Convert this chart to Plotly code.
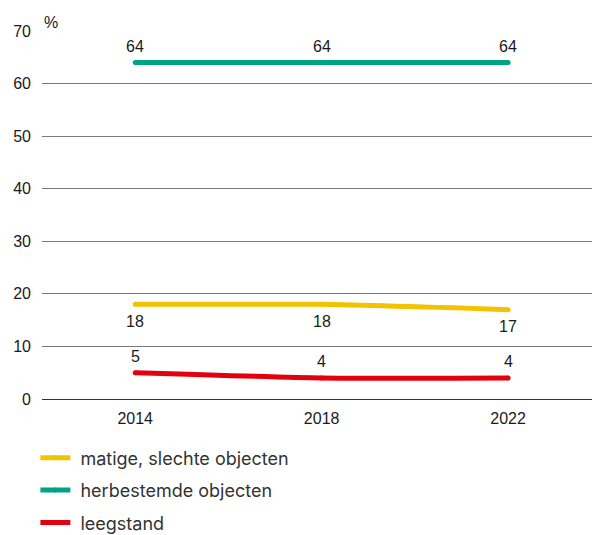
import plotly.graph_objects as go

years = ["2014", "2018", "2022"]
matig = [18, 18, 17]
herbestemd = [64, 64, 64]
leegstand = [5, 4, 4]

# name, values, colour, label offset in px (positive = above the line)
series = [
    ("matige, slechte objecten", matig, "#F2C300", -17),
    ("herbestemde objecten", herbestemd, "#00A383", 16),
    ("leegstand", leegstand, "#E3000F", 16),
]

fig = go.Figure()
annotations = []
for i, (name, vals, color, shift) in enumerate(series):
    fig.add_trace(go.Scatter(
        x=years, y=vals, name="\u00a0" + name, mode="lines+markers",
        line=dict(color=color, width=5, shape="spline", smoothing=0.5),
        marker=dict(color=color, size=5, line=dict(width=0)),
        legendgroup=f"g{i}", cliponaxis=False,
    ))
    for k, v in enumerate(vals):
        # category axes place annotations by category index
        annotations.append(dict(
            x=k, y=v, text=str(v), showarrow=False, yshift=shift,
            font=dict(family="Liberation Sans, Arial", size=16, color="#1a1a1a"),
        ))

annotations.append(dict(
    text="%", xref="paper", yref="paper", x=0, y=1, xanchor="left",
    yanchor="bottom", showarrow=False, font=dict(size=16), yshift=-2,
))

fig.update_layout(
    width=592, height=535,
    margin=dict(l=42, r=0, t=31, b=136, autoexpand=False),
    plot_bgcolor="white", paper_bgcolor="white",
    font=dict(family="Liberation Sans, Arial", size=16, color="#1a1a1a"),
    showlegend=True,
    legend=dict(
        orientation="v", x=-0.012, xanchor="left", y=-0.11, yanchor="top",
        font=dict(family="Inter, Lato", size=18, color="#333333"),
        tracegroupgap=6, traceorder="grouped",
    ),
    xaxis=dict(
        type="category", range=[-0.5, 2.45], showgrid=False, zeroline=False,
        showline=False, ticks="", ticklabelstandoff=8,
        tickfont=dict(size=16),
    ),
    yaxis=dict(
        range=[0, 70], dtick=10, showgrid=True, gridcolor="#7a7a7a", gridwidth=1,
        zeroline=True, zerolinecolor="#333333", zerolinewidth=1,
        ticks="", ticklabelstandoff=10, tickfont=dict(size=16),
    ),
    annotations=annotations,
)

fig.write_html("out.html")
